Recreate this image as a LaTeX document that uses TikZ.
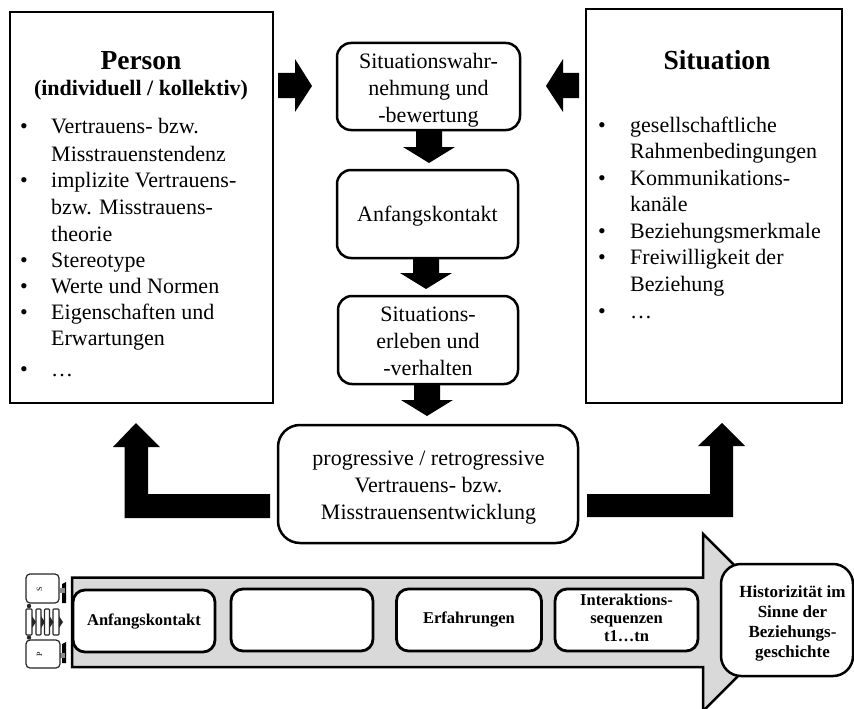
\documentclass[tikz,border=0pt]{standalone}
\usepackage{fontspec}
\setmainfont{Liberation Serif}
\newcommand{\fs}[1]{\fontsize{#1}{#1}\selectfont}
\tikzset{
 x=1pt,y=-1pt,
 sq/.style={draw=black,line width=2.5pt,fill=white},
 rbox/.style={draw=black,line width=2.5pt,fill=white,rounded corners=14pt,inner sep=0pt},
 irbox/.style={draw=black,line width=2.8pt,fill=white,rounded corners=12pt,inner sep=0pt},
 lbl/.style={align=center,inner sep=0pt,font=\fs{22}},
 blbl/.style={align=center,inner sep=0pt,font=\fs{16.5}\bfseries},
 txt/.style={anchor=base west,inner sep=0pt,font=\fs{22}},
 tiny/.style={draw=black!85,line width=1.2pt,fill=white,rounded corners=4pt,inner sep=0pt},
 tinyr/.style={draw=black!85,line width=1.1pt,fill=white,rounded corners=.8pt},
 tinyt/.style={inner sep=0pt,font=\fs{8},rotate=90},
}
\begin{document}
\begin{tikzpicture}
\useasboundingbox (0,0) rectangle (854,709);
% boxes
\draw[sq] (10,12) rectangle (273,403);
\draw[sq] (586,9) rectangle (842,403);
\node[inner sep=0pt,font=\fs{27.5}\bfseries] (ptitle) at (141,61) {Person};
\node[inner sep=0pt,font=\fs{22}\bfseries] (psub) at (141,90) {(individuell / kollektiv)};
\foreach \y/\t in {133/Vertrauens- bzw.,161/Misstrauenstendenz,187/implizite Vertrauens-,214/bzw. Misstrauens-,241/theorie,267/Stereotype,293/Werte und Normen,319/Eigenschaften und,345/Erwartungen,376/…}
  \node[txt] at (51,\y) {\t};
\foreach \y in {133,187,267,293,319,376}
  \node[txt] at (20,\y) {•};
\node[inner sep=0pt,font=\fs{27.5}\bfseries] (stitle) at (717,60) {Situation};
\foreach \y/\t in {132/gesellschaftliche,158/Rahmenbedingungen,185/Kommunikations-,211/kanäle,238/Beziehungsmerkmale,264/Freiwilligkeit der,291/Beziehung,318/…}
  \node[txt] at (630,\y) {\t};
\foreach \y in {132,185,238,264,318}
  \node[txt] at (598,\y) {•};
% centre boxes
\node[rbox,minimum width=183pt,minimum height=87pt] (a) at (428.5,86.5) {};
\node[lbl] (at) at (428.5,90) {Situationswahr-\\[5pt]nehmung und\\[5pt]-bewertung};
\node[rbox,minimum width=181pt,minimum height=88pt] (b) at (427.5,214) {};
\node[lbl] (bt) at (427.5,216) {Anfangskontakt};
\node[rbox,minimum width=180pt,minimum height=88pt] (c) at (428,340) {};
\node[lbl] (ct) at (428,341) {Situations-\\[5pt]erleben und\\[5pt]-verhalten};
\node[rbox,rounded corners=22pt,minimum width=300pt,minimum height=118pt] (d) at (428,484) {};
\node[lbl] (dt) at (428.5,488) {progressive / retrogressive\\[5pt]Vertrauens- bzw.\\[5pt]Misstrauensentwicklung};
% block arrows
\fill[black] (278,73)--(295,73)--(295,59)--(312,86)--(295,112)--(295,98)--(278,98)--cycle;
\fill[black] (579,73)--(563,73)--(563,59)--(546,86)--(563,112)--(563,98)--(579,98)--cycle;
\fill[black] (416,131)--(442,131)--(442,147)--(455,147)--(429,163)--(403,147)--(416,147)--cycle;
\fill[black] (413,258)--(439,258)--(439,273)--(452,273)--(426,289)--(400,273)--(413,273)--cycle;
\fill[black] (414,385)--(440,385)--(440,400)--(453,400)--(427,416)--(401,400)--(414,400)--cycle;
\fill[black] (270,494)--(148,494)--(148,447)--(160,447)--(136,423)--(113,447)--(124.5,447)--(124.5,518)--(270,518)--cycle;
\fill[black] (587,494)--(710,494)--(710,446)--(698,446)--(722,423)--(745,446)--(733,446)--(733,517)--(587,517)--cycle;
% long arrow
\draw[draw=black,line width=2.5pt,fill=black!15] (72,577.5)--(703,577.5)--(703,534)--(792,622.5)--(703,711)--(703,667)--(72,667)--cycle;
\node[irbox,minimum width=142pt,minimum height=62pt] (e1) at (144,621) {};
\node[blbl] (e1t) at (144,622) {Anfangskontakt};
\node[irbox,minimum width=142pt,minimum height=62pt] (e2) at (302,620) {};
\node[irbox,minimum width=145pt,minimum height=62pt] (e3) at (469,620) {};
\node[blbl] (e3t) at (469,620) {Erfahrungen};
\node[irbox,minimum width=143pt,minimum height=62pt] (e4) at (626.5,620) {};
\node[blbl] (e4t) at (626.5,618) {Interaktions-\\[1.5pt]sequenzen\\[1.5pt]t1…tn};
\node[rbox,rounded corners=20pt,minimum width=132pt,minimum height=112pt] (h) at (787,620) {};
\node[blbl,font=\fs{17}\bfseries] (ht) at (792.5,623) {Historizität im\\[3pt]Sinne der\\[3pt]Beziehungs-\\[3pt]geschichte};
% small icon
\foreach \xa/\xb in {26/32,36/41,44.5/49.5,53/59}
  \draw[tinyr] (\xa,609) rectangle (\xb,635);
\foreach \xx in {32,41,49.5,59}
  \fill[black!85] (\xx,616)--(\xx+4,622)--(\xx,628)--cycle;
\fill[black] (62,584)--(66,582)--(66,603)--(62,603)--cycle;
\fill[black!45] (60,588)--(65,588)--(65,593)--(60,593)--cycle;
\node[tiny,minimum width=33pt,minimum height=29pt] (s) at (42.5,588.5) {};
\node[tinyt] (st) at (39.5,589) {S};
\fill[black] (62,644)--(66,642)--(66,663)--(62,663)--cycle;
\fill[black!45] (60,653)--(65,653)--(65,658)--(60,658)--cycle;
\node[tiny,minimum width=34pt,minimum height=28pt] (p) at (43,654) {};
\node[tinyt] (pt) at (39.5,654) {P};
\fill[black!85] (29,606) circle (2.2pt);
\fill[black!85] (29,637.5) circle (2.2pt);
\end{tikzpicture}
\end{document}
